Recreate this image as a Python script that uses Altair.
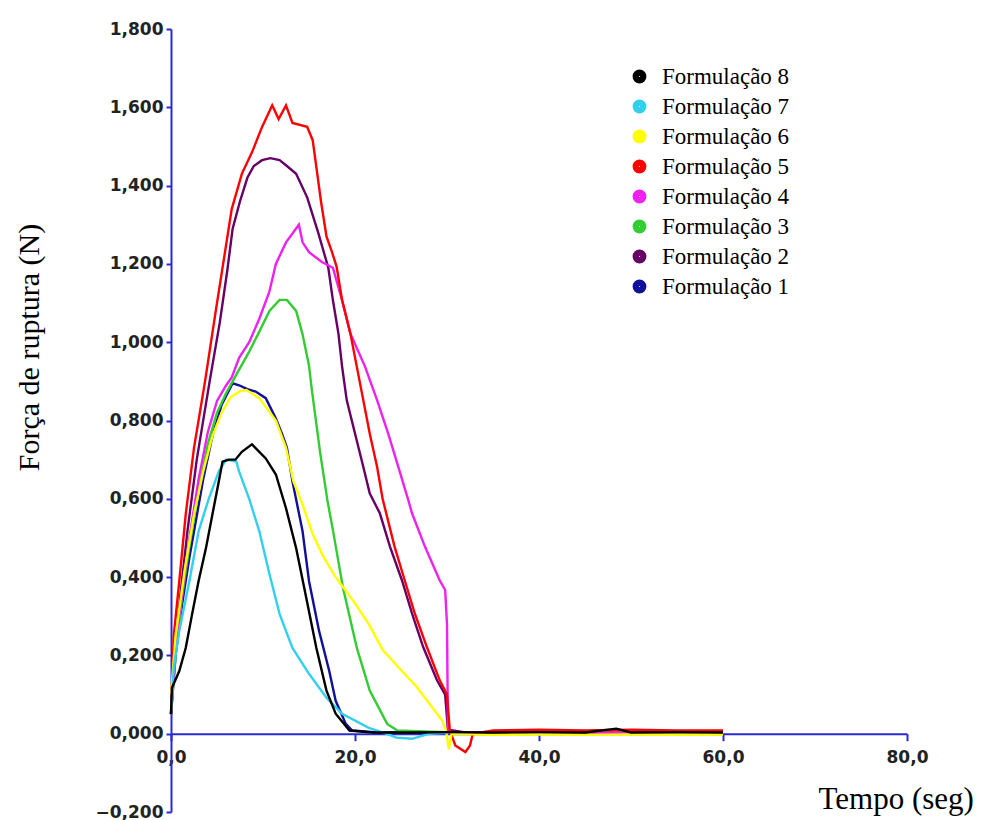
import altair as alt
import pandas as pd

# ---- data (x = tempo em s, y = força em N) ----
f1_x = [0, 0.5, 1.2, 2.0, 3.5, 4.5, 5.5, 6.7, 7.4, 8.3, 9.2, 10.3, 11.4, 12.1, 12.6, 13.2, 14.3, 15.0, 16.1, 17.2, 17.9, 19.0, 19.7, 22, 26, 30]
f1_y = [0.05, 0.20, 0.33, 0.45, 0.65, 0.76, 0.84, 0.895, 0.89, 0.88, 0.874, 0.857, 0.805, 0.764, 0.73, 0.645, 0.517, 0.39, 0.262, 0.16, 0.084, 0.025, 0.008, 0.004, 0.003, 0.003]

f2_x = [0, 0.4, 1.0, 1.8, 2.8, 4.2, 5.3, 6.1, 6.7, 7.5, 8.3, 9.0, 9.9, 10.8, 11.8, 12.6, 13.6, 14.8, 16.0, 17.1, 17.6, 18.2, 18.6, 19.1, 20.0, 20.9, 21.6, 22.7, 23.8, 25.1, 26.2, 27.4, 28.9, 29.8, 30.1, 32, 35, 40, 45, 50, 55, 60]
f2_y = [0.05, 0.20, 0.35, 0.52, 0.70, 0.90, 1.05, 1.18, 1.29, 1.36, 1.42, 1.45, 1.465, 1.47, 1.465, 1.45, 1.43, 1.37, 1.28, 1.19, 1.107, 1.022, 0.937, 0.852, 0.767, 0.682, 0.614, 0.563, 0.478, 0.392, 0.307, 0.222, 0.137, 0.10, 0.01, 0.003, 0.004, 0.003, 0.004, 0.003, 0.004, 0.003]

f3_x = [0, 0.5, 1.2, 2.0, 3.0, 4.0, 5.0, 6.0, 7.1, 8.5, 9.6, 10.7, 11.8, 12.6, 13.6, 14.3, 15.0, 15.3, 16.2, 17.0, 17.6, 18.7, 20.2, 21.6, 23.5, 24.6, 30, 35, 40, 45, 50, 55, 60]
f3_y = [0.05, 0.20, 0.35, 0.48, 0.62, 0.74, 0.82, 0.87, 0.917, 0.976, 1.027, 1.08, 1.108, 1.108, 1.08, 1.02, 0.94, 0.88, 0.72, 0.596, 0.52, 0.372, 0.219, 0.11, 0.025, 0.008, 0.004, 0.003, 0.004, 0.003, 0.004, 0.003, 0.003]

f4_x = [0, 0.5, 1.0, 2.0, 3.0, 4.0, 5.0, 6.0, 6.6, 7.4, 8.5, 9.6, 10.7, 11.4, 12.5, 13.9, 14.3, 15.0, 16.4, 17.6, 18.6, 19.5, 21.1, 22.4, 23.6, 24.7, 25.8, 26.2, 27.6, 29.2, 29.8, 30.0, 30.1, 30.3, 35, 40, 45, 50, 55, 60]
f4_y = [0.05, 0.22, 0.32, 0.50, 0.65, 0.77, 0.85, 0.89, 0.91, 0.96, 1.00, 1.06, 1.13, 1.20, 1.255, 1.30, 1.255, 1.23, 1.205, 1.19, 1.107, 1.022, 0.937, 0.852, 0.767, 0.682, 0.596, 0.563, 0.478, 0.392, 0.367, 0.28, 0.017, 0.002, 0.003, 0.004, 0.003, 0.003, 0.004, 0.003]

f5_x = [0, 0.3, 0.9, 1.6, 2.5, 3.7, 4.9, 5.6, 6.6, 7.7, 8.8, 9.9, 11.0, 11.7, 12.5, 13.2, 14.8, 15.4, 15.9, 16.3, 16.9, 17.5, 18.0, 18.6, 19.5, 20.2, 20.9, 21.6, 22.4, 23.0, 24.3, 25.4, 26.5, 27.8, 29.2, 30.0, 30.3, 30.9, 32.0, 32.5, 32.8, 35, 40, 45, 50, 55, 60]
f5_y = [0.05, 0.25, 0.39, 0.56, 0.73, 0.90, 1.085, 1.19, 1.34, 1.43, 1.485, 1.55, 1.605, 1.57, 1.605, 1.56, 1.55, 1.516, 1.43, 1.36, 1.27, 1.23, 1.193, 1.107, 1.022, 0.937, 0.852, 0.767, 0.682, 0.60, 0.478, 0.392, 0.307, 0.222, 0.137, 0.10, 0.01, -0.03, -0.047, -0.03, 0.0, 0.008, 0.01, 0.008, 0.01, 0.008, 0.008]

f6_x = [0, 0.5, 1.5, 2.5, 3.5, 4.5, 5.5, 6.5, 7.5, 8.2, 9.6, 11.4, 12.5, 13.3, 14.3, 15.4, 16.5, 17.9, 19.8, 21.5, 23.0, 25.1, 26.7, 27.6, 29.5, 29.9, 30.2, 30.5, 35, 40, 45, 50, 55, 60]
f6_y = [0.10, 0.25, 0.42, 0.56, 0.67, 0.76, 0.82, 0.86, 0.875, 0.878, 0.857, 0.80, 0.73, 0.645, 0.585, 0.51, 0.455, 0.40, 0.34, 0.28, 0.214, 0.16, 0.12, 0.092, 0.033, 0.008, -0.04, 0.0, -0.003, -0.002, -0.003, -0.002, -0.003, -0.002]

f7_x = [0, 0.3, 0.9, 2.0, 3.0, 4.1, 5.2, 6.0, 7.1, 7.4, 8.5, 9.6, 10.7, 11.8, 13.2, 15.0, 16.9, 18.6, 21.5, 23.4, 24.5, 26.2, 28.1, 30]
f7_y = [0.05, 0.17, 0.262, 0.39, 0.517, 0.60, 0.67, 0.70, 0.695, 0.67, 0.60, 0.517, 0.408, 0.306, 0.219, 0.153, 0.092, 0.051, 0.015, 0.0, -0.01, -0.013, 0.0, 0.002]

f8_x = [0, 0.1, 0.9, 1.6, 2.3, 3.0, 3.8, 4.5, 5.2, 5.6, 6.3, 7.0, 7.7, 8.8, 10.3, 11.4, 12.5, 13.6, 14.7, 15.8, 16.9, 17.9, 19.4, 22, 26, 30, 35, 40, 45, 48.4, 50, 55, 60]
f8_y = [0.05, 0.117, 0.16, 0.219, 0.306, 0.39, 0.474, 0.56, 0.645, 0.695, 0.70, 0.70, 0.72, 0.739, 0.703, 0.662, 0.576, 0.474, 0.347, 0.219, 0.11, 0.051, 0.008, 0.003, 0.003, 0.004, 0.003, 0.004, 0.003, 0.013, 0.003, 0.004, 0.003]

names = ["Formulação 8", "Formulação 7", "Formulação 6", "Formulação 5",
         "Formulação 4", "Formulação 3", "Formulação 2", "Formulação 1"]
colors = ["#000000", "#33d0ee", "#ffff00", "#ff0000",
          "#ee22ee", "#33cc33", "#660066", "#10109a"]

y_ticks = [-0.2, 0.0, 0.2, 0.4, 0.6, 0.8, 1.0, 1.2, 1.4, 1.6, 1.8]
x_ticks = [0, 20, 40, 60, 80]

series = {
    "Formulação 1": (f1_x, f1_y),
    "Formulação 2": (f2_x, f2_y),
    "Formulação 3": (f3_x, f3_y),
    "Formulação 4": (f4_x, f4_y),
    "Formulação 5": (f5_x, f5_y),
    "Formulação 6": (f6_x, f6_y),
    "Formulação 7": (f7_x, f7_y),
    "Formulação 8": (f8_x, f8_y),
}

rows = []
for k, (name, (xs, ys)) in enumerate(series.items()):
    for i, (xv, yv) in enumerate(zip(xs, ys)):
        rows.append({"serie": name, "t": xv, "f": yv, "i": i, "layer": k})
df = pd.DataFrame(rows)

AXIS_BLUE = "#2a2ad2"

chart = alt.Chart(df).mark_line(strokeWidth=2.4).encode(
    x=alt.X("t:Q",
            scale=alt.Scale(domain=[0, 80], nice=False, zero=False),
            axis=alt.Axis(
                values=x_ticks,
                labelExpr="replace(format(datum.value, '.1f'), '.', ',')",
                labelFlush=False, labelOverlap=False,
                grid=False,
                domainColor=AXIS_BLUE, domainWidth=2,
                tickColor=AXIS_BLUE, tickWidth=2, tickSize=7,
                labelFont="DejaVu Sans", labelFontSize=17, labelFontWeight="bold",
                labelColor="#222222",
                labelPadding=9,
                offset=-78.3,
                title="Tempo (seg)",
                titleFont="Liberation Serif", titleFontSize=31, titleFontWeight="normal",
                titleColor="#000000",
                titleX=647, titleY=75, titleAlign="left", titleBaseline="alphabetic",
                titleAnchor="start",
            )),
    y=alt.Y("f:Q",
            scale=alt.Scale(domain=[-0.2, 1.8], nice=False, zero=False),
            axis=alt.Axis(
                values=y_ticks,
                labelExpr="replace(format(datum.value, '.3f'), '.', ',')",
                labelFlush=False, labelOverlap=False,
                grid=False,
                domainColor=AXIS_BLUE, domainWidth=2,
                tickColor=AXIS_BLUE, tickWidth=2, tickSize=5,
                labelFont="DejaVu Sans", labelFontSize=17, labelFontWeight="bold",
                labelColor="#222222",
                labelPadding=3,
                title="Força de ruptura (N)",
                titleFont="Liberation Serif", titleFontSize=30, titleFontWeight="normal",
                titleColor="#000000",
                titleX=-133, titleY=318, titleAngle=270, titleAlign="center",
                titleBaseline="alphabetic",
            )),
    color=alt.Color("serie:N",
                    scale=alt.Scale(domain=names, range=colors),
                    legend=alt.Legend(
                        title=None, orient="none", legendX=457, legendY=36,
                        padding=0, rowPadding=-7,
                        symbolType="circle", symbolSize=40, symbolStrokeWidth=7.5,
                        labelFont="Liberation Serif", labelFontSize=23,
                        labelColor="#000000", labelOffset=11, labelLimit=300,
                    )),
    detail="layer:N",
    order="i:Q",
).properties(
    width=736, height=783,
    padding={"left": 171, "top": 29, "right": 75, "bottom": 8},
    autosize=alt.AutoSizeParams(type="none"),
    background="white",
).configure_view(stroke=None, strokeWidth=0)

chart.save("out.html", embed_options={"renderer": "svg", "actions": False})
